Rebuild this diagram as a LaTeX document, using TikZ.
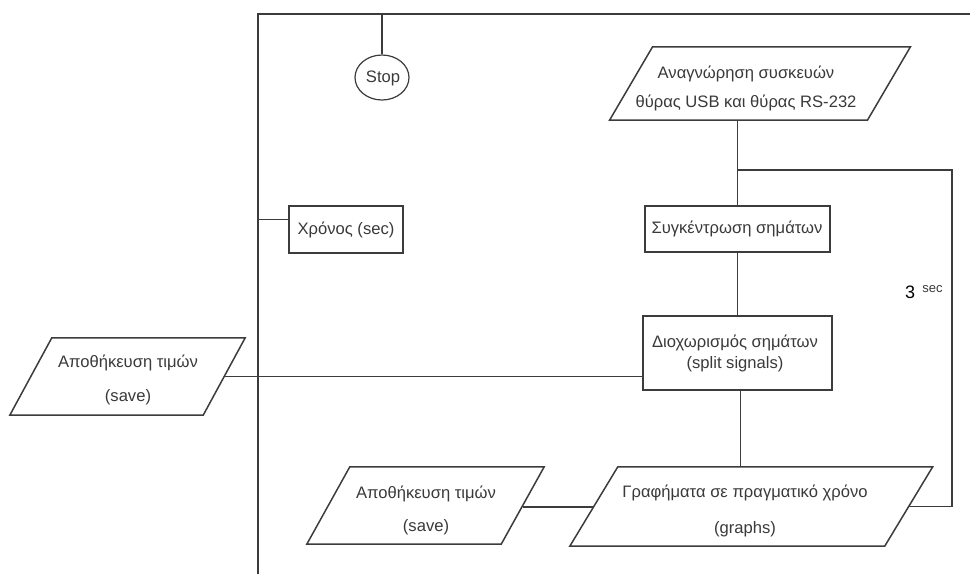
\documentclass[tikz,border=0pt]{standalone}
\usepackage{fontspec}
\setmainfont{Liberation Sans}
\usetikzlibrary{shapes.geometric,calc}
\definecolor{ln}{HTML}{3C3C3C}
\definecolor{tx}{HTML}{3A3A3A}
\newcommand{\drawpara}[2]{%
  \draw[conn] ($(#1.north west)+(#2,0)$) -- ($(#1.north east)+(#2,0)$) -- ($(#1.south east)+(-#2,0)$) -- ($(#1.south west)+(-#2,0)$) -- cycle;}
\begin{document}
\begin{tikzpicture}[x=1pt,y=-1pt]
\tikzset{
 box/.style={draw=ln, rectangle, inner sep=0pt, line width=1.5pt},
 paraframe/.style={rectangle, inner sep=0pt},
 txt/.style={text=tx, font=\fontsize{16.6}{29}\selectfont, align=center, inner sep=0pt},
 conn/.style={draw=ln, line width=1.5pt},
}
\fill[white] (0,0) rectangle (970,574);
\useasboundingbox (0,0) rectangle (970,574);
% frame
\coordinate (bl) at (258,574);
\coordinate (tr) at (970,14);
\draw[conn] (bl) |- (tr);
% stop
\node[box, ellipse, line width=1.2pt, minimum width=54pt, minimum height=45pt] (stop) at (382,77.5) {};
\node[txt] (stopT) at (383,78) {Stop};
\draw[conn] (stop.north) -- (stop.north |- tr);
% time
\node[box, minimum width=114pt, minimum height=47pt] (time) at (346,229.5) {};
\node[txt] (timeT) at (346,229.5) {Χρόνος (sec)};
\draw[conn] ([yshift=10pt]time.west) -- ([yshift=10pt]time.west -| bl);
% read
\node[paraframe, minimum width=257.5pt, minimum height=73pt] (read) at (760,83.5) {};
\drawpara{read}{21.5}
\node[txt] (readT) at (746,88.5) {Αναγνώρηση συσκευών\\θύρας USB και θύρας RS-232};
% sync
\node[box, minimum width=185pt, minimum height=46pt] (sync) at (737.5,229) {};
\node[txt] (syncT) at (737,228.5) {Συγκέντρωση σημάτων};
% split
\node[box, minimum width=189pt, minimum height=74pt] (split) at (737.5,353) {};
\node[txt, font=\fontsize{16.6}{21}\selectfont] (splitT) at (735,353.5) {Διοχωρισμός σημάτων\\(split signals)};
% graph
\node[paraframe, minimum width=314.5pt, minimum height=79pt] (graph) at (751.25,506.5) {};
\drawpara{graph}{24}
\node[txt, font=\fontsize{16.6}{36}\selectfont] (graphT) at (745,511) {Γραφήματα σε πραγματικό χρόνο\\(graphs)};
% saves
\node[paraframe, minimum width=193pt, minimum height=77pt] (save1) at (127.5,376.5) {};
\drawpara{save1}{21}
\node[txt, font=\fontsize{16.6}{34}\selectfont] (save1T) at (128,380) {Αποθήκευση τιμών\\(save)};
\node[paraframe, minimum width=194pt, minimum height=77pt] (save2) at (425.5,505.5) {};
\drawpara{save2}{21.5}
\node[txt, font=\fontsize{16.6}{33}\selectfont] (save2T) at (426,510.5) {Αποθήκευση τιμών\\(save)};
% connectors
\coordinate (j) at (sync.north |- 0,170);
\coordinate (loopX) at (952,0);
\draw[conn] (sync.north) -- (sync.north |- read.south);
\draw[conn] (j) -| (loopX |- graph.east) -- (graph.east);
\draw[conn] (sync.south) -- (split.north);
\draw[conn] ([xshift=3pt]split.south) -- ([xshift=3pt]split.south |- graph.north);
\draw[conn] (save1.east) -- (save1.east -| split.west);
\draw[conn] ([yshift=-1.5pt]save2.east) -- ([yshift=-1.5pt]save2.east -| graph.west);
% 3 sec
\node[inner sep=0pt, font=\fontsize{18}{20}\selectfont] (three) at (910,292) {3};
\node[inner sep=0pt, text=tx, font=\fontsize{13}{14}\selectfont] (sec) at (932.5,289) {sec};
\end{tikzpicture}
\end{document}
